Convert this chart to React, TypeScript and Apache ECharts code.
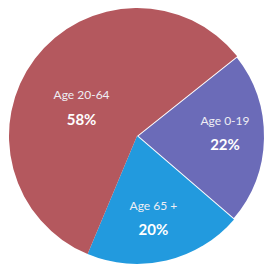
import React, { useEffect, useRef } from "react";
import * as echarts from "echarts";

const categories = ["Age 0-19", "Age 65 +", "Age 20-64"];
const values = [22, 20, 58];
const colors = ["#6b6bb8", "#229ade", "#b4585e"];
const labelOffsets: [number, number][] = [[21, -4], [1, 17], [-2, 12]];

export default function App() {
  const ref = useRef<HTMLDivElement>(null);
  useEffect(() => {
    if (!ref.current) return;
    const chart = echarts.init(ref.current, null, { renderer: "svg" });
    chart.setOption({
      animation: false,
      backgroundColor: "#ffffff",
      series: [
        {
          type: "pie",
          center: [137, 136],
          radius: 128,
          startAngle: 38.5,
          clockwise: true,
          silent: true,
          label: {
            show: true,
            position: "inside",
            formatter: (p: any) => `{a|${p.name}}\n{b|${p.value}%}`,
            rich: {
              a: { fontFamily: "Lato", fontSize: 12, color: "#eeeef4", lineHeight: 22 },
              b: { fontFamily: "Lato", fontSize: 15, fontWeight: "bold", color: "#ffffff", lineHeight: 26 },
            },
          },
          labelLine: { show: false },
          data: categories.map((name, i) => ({
            name,
            value: values[i],
            itemStyle: {
              color: colors[i],
              borderColor: "#ffffff",
              borderWidth: i === 0 ? 2 : 0,
            },
            label: { offset: labelOffsets[i] },
          })),
        },
      ],
    });
    return () => chart.dispose();
  }, []);
  return (
    <div
      ref={ref}
      style={{ position: "fixed", left: 0, top: 0, width: 268, height: 269 }}
    />
  );
}
